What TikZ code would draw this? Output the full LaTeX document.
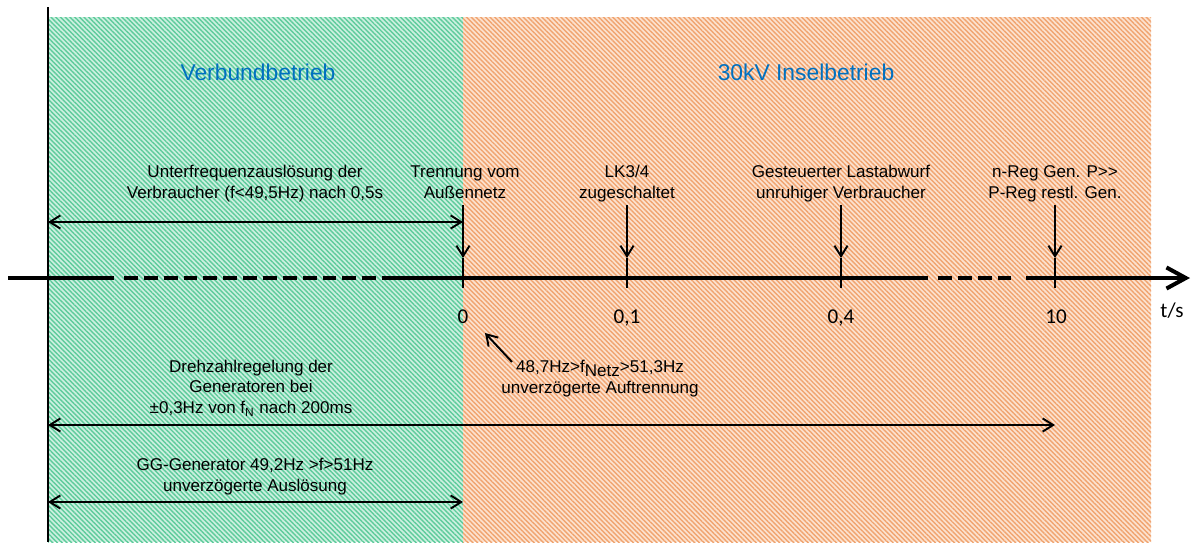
\documentclass[tikz,border=0pt]{standalone}
\usepackage{fontspec}
\setmainfont{Liberation Sans}
\newfontfamily\tickfont{Carlito}
\usetikzlibrary{arrows.meta, patterns.meta}

\definecolor{verbundfill}{RGB}{204,240,224}
\definecolor{verbundline}{RGB}{94,203,155}
\definecolor{inselfill}{RGB}{252,226,207}
\definecolor{inselline}{RGB}{240,164,112}
\definecolor{titleblue}{RGB}{0,112,192}

\tikzset{
	note/.style={align=center, inner sep=1pt, text depth=2.3pt,
		font=\fontsize{9.7}{11.9}\selectfont},
	title/.style={inner sep=0pt, text=titleblue, font=\fontsize{13}{15}\selectfont},
	ticklabel/.style={inner sep=0pt, font=\tickfont\fontsize{12}{14}\selectfont},
	arr/.style={line width=1.1pt},
	axisline/.style={line width=2.3pt},
	hatch/.style={pattern={Lines[angle=-45, distance=1.9pt, line width=.8pt]}}
}

\begin{document}
\begin{tikzpicture}[x=0.02cm, y=-0.02cm, >={Straight Barb[length=6pt, width=7.5pt]}]
	\def \axis {278}
	\def \top {17}
	\def \bottom {542}

	\useasboundingbox (0,0) rectangle (1193,542);

	% Verbundbetrieb | Inselbetrieb
	\fill[verbundfill] (48,\top) rectangle (463,\bottom);
	\fill[hatch, pattern color=verbundline] (48,\top) rectangle (463,\bottom);
	\fill[inselfill] (463,\top) rectangle (1151,\bottom);
	\fill[hatch, pattern color=inselline] (463,\top) rectangle (1151,\bottom);

	\node[title, anchor=base] (verbund) at (258,80.5) {Verbundbetrieb};
	\node[title, anchor=base] (insel)   at (806,80.5) {30kV Inselbetrieb};

	\draw[line width=1.4pt] (48,7) -- (48,\bottom);

	% time axis
	\draw[axisline] (8,\axis) -- (114,\axis);
	\draw[axisline, dash pattern=on 7.9pt off 3.4pt] (124,\axis) -- (390,\axis);
	\draw[axisline] (390,\axis) -- (928,\axis);
	\draw[axisline, dash pattern=on 7.9pt off 3.4pt] (938,\axis) -- (1012,\axis);
	\draw[axisline, -{Straight Barb[length=11pt, width=12pt]}] (1026,\axis) -- (1190,\axis);

	\coordinate (t0)  at (463,258);
	\coordinate (t1)  at (627,258);
	\coordinate (t4)  at (841,258);
	\coordinate (t10) at (1055,258);

	\foreach \t in {t0, t1, t4, t10}
		\draw[arr] (\t) -- ++(0,30);

	\node[ticklabel, anchor=base] (l0)  at (463,323)  {0};
	\node[ticklabel, anchor=base] (l1)  at (627,323)  {0,1};
	\node[ticklabel, anchor=base] (l4)  at (841,323)  {0,4};
	\node[ticklabel, anchor=base] (l10) at (1056,323) {10};
	\node[ticklabel, anchor=base] (ts)  at (1172,317) {t/s};

	% events
	\node[note, anchor=south] (trennung) at (465,205)
		{Trennung vom\\Außennetz};
	\node[note, anchor=south] (lk)       at (627,205)
		{LK3/4\\zugeschaltet};
	\node[note, anchor=south] (abwurf)   at (841,205)
		{Gesteuerter Lastabwurf\\unruhiger Verbraucher};
	\node[note, anchor=south] (nreg)     at (1055,205)
		{n-Reg Gen. P>{}>\\P-Reg restl. Gen.};

	\draw[arr, ->] (t0 |- trennung.south) -- (t0);
	\draw[arr, ->] (t1 |- lk.south)       -- (t1);
	\draw[arr, ->] (t4 |- abwurf.south)   -- (t4);
	\draw[arr, ->] (t10 |- nreg.south)    -- (t10);

	% Schutz und Regelung
	\node[note, anchor=south] (unterfrequenz) at (255,205)
		{Unterfrequenzauslösung der\\Verbraucher (f<49,5Hz) nach 0,5s};
	\coordinate (uf) at (48,222);
	\draw[arr, <->] (uf) -- (uf -| t0);

	\node[note, anchor=south] (netz) at (600,400)
		{48,7Hz>f\raisebox{-2pt}{Netz}>51,3Hz\\unverzögerte Auftrennung};
	\coordinate (diagtail) at (512,362);
	\coordinate (diagtip)  at (485,333);
	\draw[arr, ->] (diagtail) -- (diagtip);

	\node[note, anchor=south] (drehzahl) at (251,420)
		{Drehzahlregelung der\\Generatoren bei\\±0,3Hz von f\textsubscript{N} nach 200ms};
	\coordinate (dz) at (48,425);
	\draw[arr, <->] (dz) -- (dz -| t10);

	\node[note, anchor=south] (gg) at (255,498)
		{GG-Generator 49,2Hz >f>51Hz\\unverzögerte Auslösung};
	\coordinate (ggl) at (48,502);
	\draw[arr, <->] (ggl) -- (ggl -| t0);
\end{tikzpicture}
\end{document}
